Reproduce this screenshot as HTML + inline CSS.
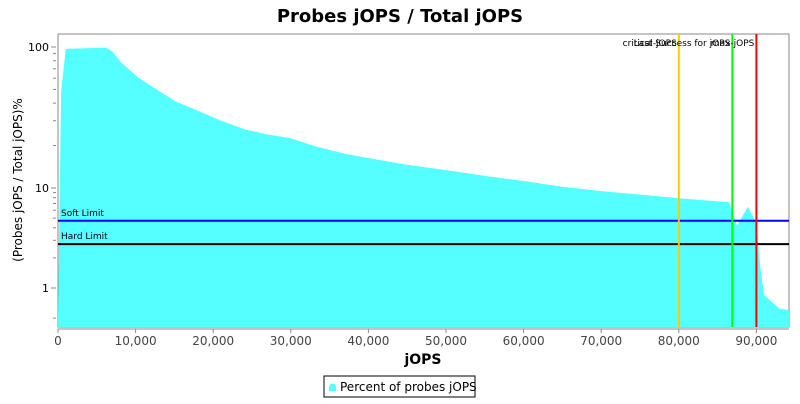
<!DOCTYPE html>
<html><head><meta charset="utf-8"><style>
body{margin:0;background:#fff;font-family:"DejaVu Sans","Liberation Sans",sans-serif}
svg text{font-family:"DejaVu Sans","Liberation Sans",sans-serif}
</style></head><body>
<svg id="c" width="800" height="400" xmlns="http://www.w3.org/2000/svg">
<defs><clipPath id="cp"><rect x="58" y="34" width="731" height="293"/></clipPath></defs>
<rect x="0" y="0" width="800" height="400" fill="#fff"/>
<text x="400" y="22" text-anchor="middle" font-size="18" font-weight="bold">Probes jOPS / Total jOPS</text>
<rect x="58" y="34" width="731" height="293" fill="#fff" stroke="#888"/>
<g id="g"></g>
<text x="22" y="180" transform="rotate(-90 22 180)" text-anchor="middle" font-size="12">(Probes jOPS / Total jOPS)%</text>
<text x="423" y="364" text-anchor="middle" font-size="14" font-weight="bold">jOPS</text>
<g>
<rect x="324" y="376" width="151" height="21" fill="#fff" stroke="#000"/>
<path d="M329 391 v-4 a3.5 3.5 0 0 1 7 0 v4 z" fill="#55ffff"/>
<text x="340" y="391" font-size="12">Percent of probes jOPS</text>
</g>
</svg>
<script>
const xs=[0,400,1000,6200,7000,8100,10300,12200,15200,18400,21000,24100,27000,29900,33500,37000,40000,45000,50000,55000,60000,65000,70000,75000,80000,86500,87500,88900,90000,90500,91000,93000,94200];
const ys=[0.5,48,97,99,93,78,61,52,41,34.6,30,26,24,22.6,19.5,17.5,16.3,14.6,13.4,12.2,11.2,10.2,9.3,8.6,7.9,7.2,4.2,6.5,4.4,1.6,0.85,0.62,0.6];
const xTicks=[0,10000,20000,30000,40000,50000,60000,70000,80000,90000];
const yTicks=[1,10,100];
const limits=[{name:"Soft Limit",v:4.7,c:"#0000ff"},{name:"Hard Limit",v:2.75,c:"#000"}];
const markers=[{name:"critical-jOPS",v:80000,c:"#ffc800"},{name:"Last Success for jOPS",v:86900,c:"#00ff00"},{name:"max-jOPS",v:90000,c:"#ff0000"}];
const NS="http://www.w3.org/2000/svg",g=document.getElementById('g');
function X(v){return 58+v*0.00776;}
function Y(v){const l=Math.log10(v);return l>=1?188-(l-1)*141:288-l*100;}
function el(t,a){const e=document.createElementNS(NS,t);for(const k in a)e.setAttribute(k,a[k]);g.appendChild(e);return e;}
let d="M"+X(xs[0])+" 327";xs.forEach((x,i)=>{d+=" L"+X(x)+" "+Math.min(327,Y(ys[i]));});d+=" L"+X(xs[xs.length-1])+" 327Z";
const area=el('path',{d:d,fill:'#55ffff','clip-path':'url(#cp)'});


limits.forEach(l=>{const y=Y(l.v);
const ln=el('line',{x1:58,x2:789,y1:y,y2:y,stroke:l.c,'stroke-width':2});


const t=el('text',{x:61,y:y-5,'font-size':9});t.textContent=l.name;

});
markers.forEach(m=>{const x=X(m.v);
const ln=el('line',{x1:x,x2:x,y1:34,y2:327,stroke:m.c,'stroke-width':2});


const t=el('text',{x:x-2,y:46,'font-size':9,'text-anchor':'end'});t.textContent=m.name;

});
xTicks.forEach(v=>{const x=X(v);el('line',{x1:x,x2:x,y1:329,y2:333,stroke:'#888'});
const t=el('text',{x:x,y:345,'font-size':12,'text-anchor':'middle',fill:'#444'});t.textContent=v.toLocaleString('en-US');

});
yTicks.forEach(v=>{const y=Y(v);el('line',{x1:51,x2:56,y1:y,y2:y,stroke:'#888'});
const t=el('text',{x:49,y:y+4,'font-size':11,'text-anchor':'end'});t.textContent=v;


for(let k=2;k<10;k++){const m=v*k;if(m<=100){const yy=Y(m);el('line',{x1:53,x2:56,y1:yy,y2:yy,stroke:'#888'});}}});
el('line',{x1:53,x2:56,y1:Y(0.5),y2:Y(0.5),stroke:'#888'});
el('line',{x1:58,x2:789,y1:329,y2:329,stroke:'#888'});
</script>
</body></html>
